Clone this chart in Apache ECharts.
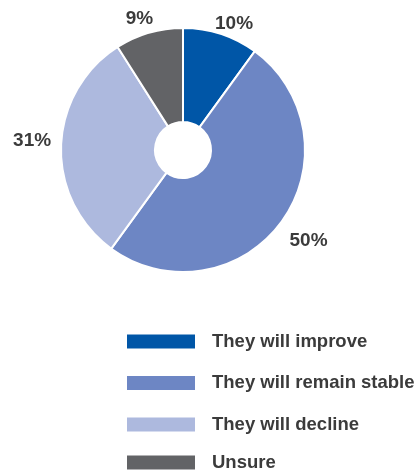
<!DOCTYPE html>
<html>
<head>
<meta charset="utf-8">
<style>
  html, body { margin: 0; padding: 0; background: #fff; }
  #chart { width: 416px; height: 470px; }
</style>
<script src="https://cdn.jsdelivr.net/npm/echarts@6/dist/echarts.min.js"></script>
</head>
<body>
<div id="chart"></div>
<script>
var categories = ['They will improve', 'They will remain stable', 'They will decline', 'Unsure'];
var shares = [10, 50, 31, 9];
var colors = ['#0056a7', '#6d86c4', '#adb9de', '#626366'];
// nudges for the percent labels, same order as categories
var labelNudge = [[5, 15], [5, 3], [-2, -5], [-2, 12]];

(function () {
  var chart = echarts.init(document.getElementById('chart'));
  var font = '"Liberation Sans", Arial, Helvetica, sans-serif';

  var pieData = categories.map(function (name, i) {
    return { name: name, value: shares[i], itemStyle: { color: colors[i] } };
  });
  var labelData = categories.map(function (name, i) {
    return {
      name: name,
      value: shares[i],
      label: { offset: labelNudge[i] }
    };
  });

  var legendBase = {
    orient: 'vertical',
    left: 125,
    height: 200,
    padding: 0,
    itemWidth: 70,
    itemHeight: 16,
    itemGap: 22.5,
    icon: 'rect',
    selectedMode: false,
    textStyle: {
      color: '#3b3b3b',
      fontSize: 18.5,
      fontWeight: 'bold',
      fontFamily: font,
      lineHeight: 16,
      padding: [0, 0, 0, 11]
    }
  };

  var option = {
    animation: false,
    color: colors,
    // the last row sits a bit tighter in the original, so it gets its own legend
    legend: [
      Object.assign({}, legendBase, { top: 332, data: categories.slice(0, 3) }),
      Object.assign({}, legendBase, { top: 453, data: categories.slice(3) })
    ],
    series: [
      {
        type: 'pie',
        center: [183, 150],
        radius: [28, 122],
        startAngle: 90,
        clockwise: true,
        label: { show: false },
        labelLine: { show: false },
        itemStyle: { borderColor: '#fff', borderWidth: 2 },
        emphasis: { disabled: true },
        data: pieData
      },
      {
        type: 'pie',
        center: [183, 150],
        radius: [122, 170],
        startAngle: 90,
        clockwise: true,
        silent: true,
        legendHoverLink: false,
        itemStyle: { color: 'rgba(0,0,0,0)' },
        label: {
          show: true,
          position: 'inside',
          formatter: '{c}%',
          color: '#3b3b3b',
          fontSize: 19,
          fontWeight: 'bold',
          fontFamily: font
        },
        labelLine: { show: false },
        data: labelData
      }
    ]
  };
  chart.setOption(option);
})();
</script>
</body>
</html>
